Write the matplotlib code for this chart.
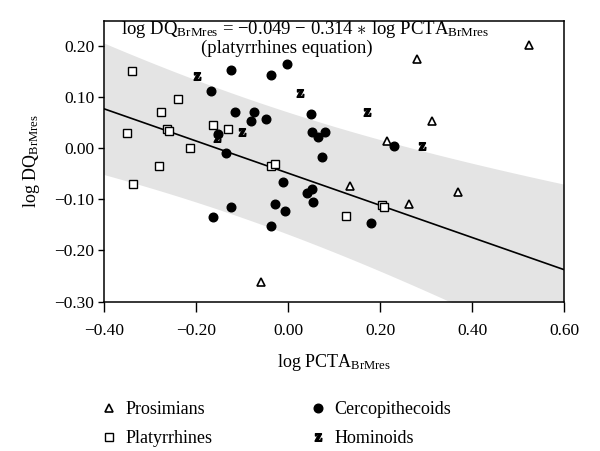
import numpy as np
import matplotlib
matplotlib.use("Agg")
import matplotlib.pyplot as plt
from matplotlib.lines import Line2D

plt.rcParams['font.family'] = ['Liberation Serif', 'DejaVu Serif']
plt.rcParams['mathtext.fontset'] = 'custom'
plt.rcParams['mathtext.rm'] = 'Liberation Serif'
plt.rcParams['mathtext.it'] = 'Liberation Serif:italic'
plt.rcParams['mathtext.bf'] = 'Liberation Serif:bold'
plt.rcParams['mathtext.sf'] = 'DejaVu Sans'
plt.rcParams['axes.unicode_minus'] = True

# --- data ---
prosim_x = [0.524, 0.281, 0.314, 0.216, 0.134, 0.262, 0.370, -0.058]
prosim_y = [0.201, 0.173, 0.052, 0.014, -0.074, -0.109, -0.085, -0.262]

platy_x = [-0.340, -0.240, -0.276, -0.351, -0.263, -0.258, -0.163, -0.130, -0.213,
           -0.337, -0.280, -0.037, -0.029, 0.125, 0.205, 0.208]
platy_y = [0.150, 0.095, 0.070, 0.030, 0.037, 0.033, 0.045, 0.037, 0.001,
           -0.070, -0.035, -0.036, -0.031, -0.132, -0.112, -0.116]

cerco_x = [-0.125, -0.003, -0.038, -0.168, -0.116, -0.073, -0.080, -0.048, 0.049,
           0.052, 0.080, 0.065, 0.073, -0.152, -0.135, 0.230, -0.011, 0.042,
           0.053, 0.055, -0.006, -0.029, -0.125, -0.163, -0.036, 0.181]
cerco_y = [0.153, 0.164, 0.142, 0.112, 0.070, 0.070, 0.052, 0.057, 0.066,
           0.031, 0.031, 0.021, -0.017, 0.028, -0.010, 0.004, -0.066, -0.087,
           -0.080, -0.106, -0.122, -0.109, -0.116, -0.134, -0.153, -0.146]

homin_x = [-0.198, 0.025, 0.171, 0.292, -0.100, -0.154]
homin_y = [0.141, 0.108, 0.070, 0.004, 0.032, 0.019]

# platyrrhines equation and its band
intercept, slope = -0.049, -0.314
band_half, band_xm, band_k = 0.118, -0.10, 2.04

x_ticks = [-0.40, -0.20, 0.00, 0.20, 0.40, 0.60]
y_ticks = [-0.30, -0.20, -0.10, 0.00, 0.10, 0.20]

Z_MARK = r'$\mathsf{\mathbf{z}}$'

fig = plt.figure(figsize=(6.0, 4.51), dpi=100)
ax = fig.add_axes([104 / 600, 1 - 301.7 / 451, 460 / 600, (301.7 - 21) / 451])

xs = np.linspace(-0.4, 0.6, 200)
fit = intercept + slope * xs
hw = band_half * np.sqrt(1 + band_k * (xs - band_xm) ** 2)
ax.fill_between(xs, fit - hw, fit + hw, color='#e4e4e4', lw=0, zorder=1)
ax.plot(xs, fit, color='black', lw=1.2, zorder=2)

ax.plot(prosim_x, prosim_y, ls='none', marker='^', ms=5.5, mfc='white', mec='black', mew=1.2, zorder=3)
ax.plot(platy_x, platy_y, ls='none', marker='s', ms=5.5, mfc='white', mec='black', mew=1.0, zorder=3)
ax.plot(cerco_x, cerco_y, ls='none', marker='o', ms=6.2, mfc='black', mec='black', zorder=3)
ax.plot(homin_x, homin_y, ls='none', marker=Z_MARK, ms=5.5, color='black', zorder=3)

ax.set_xlim(-0.4, 0.6)
ax.set_ylim(-0.30, 0.248)
ax.set_xticks(x_ticks)
ax.set_xticklabels([f"{v:.2f}".replace('-', '\u2212') for v in x_ticks])
ax.set_yticks(y_ticks)
ax.set_yticklabels([f"{v:.2f}".replace('-', '\u2212') for v in y_ticks])
ax.tick_params(axis='both', labelsize=12.5, direction='out', width=1, colors='black')
ax.tick_params(axis='x', length=7, pad=8)
ax.tick_params(axis='y', length=4, pad=3)
for s in ax.spines.values():
    s.set_linewidth(1.1)

ax.set_xlabel(r'log PCTA$_{\mathrm{BrMres}}$', fontsize=13, labelpad=10)
ax.set_ylabel(r'log DQ$_{\mathrm{BrMres}}$', fontsize=13)
ax.yaxis.set_label_coords(-0.135, 0.5)

ax.text(-0.363, 0.231, r'log DQ$_{\mathrm{BrMres}}$ = $-$0.049 $-$ 0.314 $\ast$ log PCTA$_{\mathrm{BrMres}}$',
        fontsize=13.5, ha='left', va='center', zorder=4)
ax.text(-0.003, 0.194, '(platyrrhines equation)', fontsize=13.5, ha='center', va='center', zorder=4)

handles = [
    Line2D([], [], ls='none', marker='^', ms=5.5, mfc='white', mec='black', mew=1.2),
    Line2D([], [], ls='none', marker='s', ms=5.5, mfc='white', mec='black', mew=1.0),
    Line2D([], [], ls='none', marker='o', ms=6.2, mfc='black', mec='black'),
    Line2D([], [], ls='none', marker=Z_MARK, ms=5.5, color='black'),
]
labels = ['Prosimians', 'Platyrrhines', 'Cercopithecoids', 'Hominoids']
fig.legend(handles, labels, loc='upper left', bbox_to_anchor=(93 / 600, 1 - 394 / 451),
           ncol=2, frameon=False, fontsize=13, handlelength=1.0, handletextpad=0.4,
           columnspacing=5.35, labelspacing=0.65, borderaxespad=0)

fig.savefig('out.png', dpi=100)
